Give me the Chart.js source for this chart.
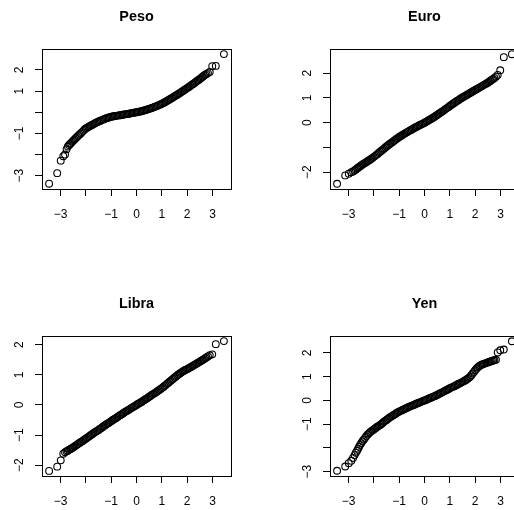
<!DOCTYPE html>
<html>
<head>
<meta charset="utf-8">
<script src="https://cdn.jsdelivr.net/npm/chart.js@4"></script>
<style>
  html, body { margin: 0; padding: 0; background: #fff; }
  #wrap { position: relative; width: 514px; height: 510px; overflow: hidden; background: #fff; }
  #wrap canvas { position: absolute; }
</style>
</head>
<body>
<div id="wrap">
  <canvas id="c0" width="288" height="288" style="left:0;top:0"></canvas>
  <canvas id="c1" width="288" height="288" style="left:288px;top:0"></canvas>
  <canvas id="c2" width="288" height="288" style="left:0;top:287px"></canvas>
  <canvas id="c3" width="288" height="288" style="left:288px;top:287px"></canvas>
</div>
<script>
// cuantiles teoricos (comunes a los cuatro paneles)
const teorico = [
  -3.45, -3.13, -2.99, -2.89, -2.82, -2.76, -2.71, -2.66, -2.62, -2.58, -2.54, -2.50,
  -2.45, -2.40, -2.35, -2.30, -2.25, -2.20, -2.15, -2.10, -2.05, -2.00,
  -1.95, -1.90, -1.85, -1.80, -1.75, -1.70, -1.65, -1.60, -1.55, -1.50,
  -1.45, -1.40, -1.35, -1.30, -1.25, -1.20, -1.15, -1.10, -1.05, -1.00,
  -0.95, -0.90, -0.85, -0.80, -0.75, -0.70, -0.65, -0.60, -0.55, -0.50,
  -0.45, -0.40, -0.35, -0.30, -0.25, -0.20, -0.15, -0.10, -0.05, 0.00,
  0.05, 0.10, 0.15, 0.20, 0.25, 0.30, 0.35, 0.40, 0.45, 0.50,
  0.55, 0.60, 0.65, 0.70, 0.75, 0.80, 0.85, 0.90, 0.95, 1.00,
  1.05, 1.10, 1.15, 1.20, 1.25, 1.30, 1.35, 1.40, 1.45, 1.50,
  1.55, 1.60, 1.65, 1.70, 1.75, 1.80, 1.85, 1.90, 1.95, 2.00,
  2.05, 2.10, 2.15, 2.20, 2.25, 2.30, 2.35, 2.40, 2.45,
  2.50, 2.54, 2.58, 2.62, 2.66, 2.71, 2.76, 2.82, 2.89, 2.99, 3.13, 3.45
];

// cuantiles muestrales
const peso = [
  -3.38, -2.88, -2.29, -2.08, -2.00, -1.75, -1.62, -1.55, -1.50, -1.45, -1.40, -1.35,
  -1.29, -1.23, -1.17, -1.11, -1.05, -1.00, -0.94, -0.88, -0.82, -0.77,
  -0.73, -0.70, -0.66, -0.63, -0.60, -0.56, -0.53, -0.50, -0.47, -0.44,
  -0.41, -0.39, -0.36, -0.34, -0.31, -0.29, -0.27, -0.25, -0.23, -0.21,
  -0.20, -0.19, -0.18, -0.17, -0.16, -0.15, -0.14, -0.13, -0.12, -0.11,
  -0.10, -0.09, -0.08, -0.07, -0.06, -0.04, -0.03, -0.02, -0.01, 0.00,
  0.01, 0.02, 0.04, 0.05, 0.07, 0.08, 0.10, 0.12, 0.14, 0.16,
  0.18, 0.20, 0.22, 0.25, 0.27, 0.29, 0.32, 0.35, 0.37, 0.40,
  0.43, 0.46, 0.50, 0.53, 0.57, 0.60, 0.64, 0.67, 0.71, 0.75,
  0.79, 0.82, 0.86, 0.90, 0.94, 0.98, 1.02, 1.06, 1.10, 1.14,
  1.18, 1.22, 1.27, 1.31, 1.35, 1.40, 1.44, 1.49, 1.53,
  1.57, 1.61, 1.65, 1.69, 1.73, 1.77, 1.81, 1.85, 1.90, 2.18, 2.19, 2.75
];

const euro = [
  -2.47, -2.13, -2.06, -2.00, -1.97, -1.93, -1.89, -1.85, -1.82, -1.79, -1.76, -1.73,
  -1.69, -1.66, -1.63, -1.60, -1.56, -1.53, -1.50, -1.46, -1.42, -1.38,
  -1.34, -1.30, -1.26, -1.21, -1.17, -1.13, -1.09, -1.05, -1.00, -0.96,
  -0.92, -0.88, -0.84, -0.81, -0.77, -0.73, -0.69, -0.65, -0.62, -0.58,
  -0.55, -0.52, -0.48, -0.45, -0.42, -0.39, -0.36, -0.33, -0.30, -0.27,
  -0.24, -0.21, -0.18, -0.16, -0.13, -0.10, -0.08, -0.05, -0.03, 0.00,
  0.03, 0.06, 0.09, 0.12, 0.15, 0.18, 0.21, 0.24, 0.28, 0.31,
  0.35, 0.38, 0.42, 0.45, 0.49, 0.53, 0.57, 0.60, 0.64, 0.68,
  0.72, 0.75, 0.79, 0.82, 0.86, 0.89, 0.92, 0.96, 0.99, 1.02,
  1.05, 1.08, 1.11, 1.14, 1.17, 1.20, 1.23, 1.26, 1.29, 1.32,
  1.35, 1.38, 1.41, 1.44, 1.47, 1.50, 1.53, 1.56, 1.59,
  1.62, 1.65, 1.68, 1.71, 1.74, 1.77, 1.81, 1.86, 1.93, 2.12, 2.65, 2.77
];

const libra = [
  -2.19, -2.05, -1.84, -1.62, -1.57, -1.54, -1.52, -1.49, -1.47, -1.45, -1.43, -1.41,
  -1.38, -1.35, -1.32, -1.29, -1.26, -1.23, -1.21, -1.18, -1.15, -1.12,
  -1.09, -1.06, -1.03, -1.00, -0.97, -0.94, -0.91, -0.88, -0.86, -0.83,
  -0.80, -0.77, -0.74, -0.71, -0.68, -0.65, -0.62, -0.60, -0.57, -0.54,
  -0.51, -0.48, -0.46, -0.43, -0.40, -0.37, -0.34, -0.32, -0.29, -0.26,
  -0.23, -0.21, -0.18, -0.16, -0.13, -0.10, -0.08, -0.05, -0.03, 0.00,
  0.03, 0.05, 0.08, 0.10, 0.13, 0.16, 0.19, 0.21, 0.24, 0.27,
  0.30, 0.33, 0.36, 0.38, 0.41, 0.44, 0.47, 0.50, 0.53, 0.56,
  0.59, 0.63, 0.66, 0.70, 0.73, 0.77, 0.80, 0.84, 0.87, 0.91,
  0.94, 0.98, 1.01, 1.04, 1.07, 1.10, 1.12, 1.15, 1.17, 1.19,
  1.21, 1.24, 1.26, 1.29, 1.31, 1.34, 1.36, 1.39, 1.41,
  1.44, 1.46, 1.48, 1.50, 1.52, 1.55, 1.58, 1.61, 1.65, 1.68, 2.02, 2.12
];

const yen = [
  -2.96, -2.78, -2.64, -2.54, -2.42, -2.30, -2.20, -2.12, -2.03, -1.95, -1.87, -1.80,
  -1.72, -1.65, -1.58, -1.51, -1.44, -1.39, -1.34, -1.30, -1.26, -1.22,
  -1.18, -1.14, -1.10, -1.07, -1.03, -0.99, -0.95, -0.90, -0.86, -0.82,
  -0.78, -0.74, -0.70, -0.67, -0.63, -0.60, -0.57, -0.53, -0.50, -0.47,
  -0.44, -0.42, -0.39, -0.37, -0.34, -0.32, -0.29, -0.27, -0.24, -0.22,
  -0.20, -0.18, -0.15, -0.13, -0.11, -0.09, -0.07, -0.04, -0.02, 0.00,
  0.02, 0.04, 0.07, 0.09, 0.11, 0.13, 0.16, 0.18, 0.21, 0.23,
  0.26, 0.29, 0.31, 0.34, 0.37, 0.40, 0.43, 0.45, 0.48, 0.51,
  0.54, 0.56, 0.59, 0.61, 0.64, 0.67, 0.70, 0.72, 0.75, 0.78,
  0.81, 0.84, 0.87, 0.91, 0.95, 1.00, 1.06, 1.13, 1.20, 1.27,
  1.33, 1.39, 1.44, 1.47, 1.50, 1.52, 1.54, 1.56, 1.58,
  1.60, 1.62, 1.63, 1.65, 1.66, 1.68, 1.69, 1.71, 2.02, 2.11, 2.14, 2.49
];

// marcas de los ejes
const xTicks = [-3, -2, -1, 0, 1, 2, 3];
const xLabels = [-3, -1, 0, 1, 2, 3];

const paneles = [
  { id: 'c0', titulo: 'Peso',  datos: peso,  ymin: -3.63, ymax: 2.99, yTicks: [-3, -2, -1, 0, 1, 2], yLabels: [-3, -1, 1, 2] },
  { id: 'c1', titulo: 'Euro',  datos: euro,  ymin: -2.68, ymax: 2.98, yTicks: [-2, -1, 0, 1, 2],     yLabels: [-2, 0, 1, 2] },
  { id: 'c2', titulo: 'Libra', datos: libra, ymin: -2.36, ymax: 2.29, yTicks: [-2, -1, 0, 1, 2],     yLabels: [-2, -1, 0, 1, 2] },
  { id: 'c3', titulo: 'Yen',   datos: yen,   ymin: -3.18, ymax: 2.71, yTicks: [-3, -2, -1, 0, 1, 2], yLabels: [-3, -1, 0, 1, 2] }
];

const FUENTE = "'Liberation Sans', Arial, Helvetica, sans-serif";
Chart.defaults.font.family = FUENTE;
Chart.defaults.color = '#000';

function etiqueta(v) {
  return v < 0 ? '\u2212' + Math.abs(v) : String(v);
}

// caja, titulo y etiquetas verticales del eje y (estilo R)
const marcoR = {
  id: 'marcoR',
  afterDraw(chart, args, opts) {
    const { ctx, chartArea } = chart;
    const l = Math.round(chartArea.left) + 0.5;
    const t = Math.round(chartArea.top) + 0.5;
    const r = Math.round(chartArea.right) + 0.5;
    const b = Math.round(chartArea.bottom) + 0.5;
    ctx.save();
    ctx.strokeStyle = '#000';
    ctx.lineWidth = 1;
    ctx.strokeRect(l, t, r - l, b - t);

    ctx.fillStyle = '#000';
    ctx.font = 'bold 14.4px ' + FUENTE;
    ctx.textAlign = 'center';
    ctx.textBaseline = 'middle';
    ctx.fillText(opts.titulo, (chartArea.left + chartArea.right) / 2, chartArea.top - 32);

    ctx.font = '12px ' + FUENTE;
    const ys = chart.scales.y;
    opts.yLabels.forEach(v => {
      ctx.save();
      ctx.translate(chartArea.left - 22, ys.getPixelForValue(v));
      ctx.rotate(-Math.PI / 2);
      ctx.fillText(etiqueta(v), 0, 0);
      ctx.restore();
    });
    ctx.restore();
  }
};

paneles.forEach(p => {
  const puntos = teorico.map((x, i) => ({ x: x, y: p.datos[i] }));
  new Chart(document.getElementById(p.id), {
    type: 'scatter',
    data: {
      datasets: [{
        data: puntos,
        pointRadius: 3.4,
        pointBorderWidth: 1.1,
        borderColor: '#000',
        backgroundColor: 'rgba(0,0,0,0)',
        pointHoverRadius: 3.4
      }]
    },
    options: {
      responsive: false,
      animation: false,
      devicePixelRatio: 1,
      layout: { padding: { left: 0, right: 57, top: 49, bottom: 59 } },
      plugins: {
        legend: { display: false },
        tooltip: { enabled: false },
        marcoR: { titulo: p.titulo, yLabels: p.yLabels }
      },
      scales: {
        x: {
          type: 'linear',
          min: -3.73,
          max: 3.73,
          afterBuildTicks: s => { s.ticks = xTicks.map(v => ({ value: v })); },
          afterFit: s => { s.height = 40; },
          border: { display: false },
          grid: { drawOnChartArea: false, drawTicks: true, tickLength: 7, color: '#000', lineWidth: 1 },
          ticks: {
            autoSkip: false,
            maxRotation: 0,
            padding: 11,
            font: { size: 12 },
            color: '#000',
            callback: v => xLabels.includes(v) ? etiqueta(v) : ''
          }
        },
        y: {
          type: 'linear',
          min: p.ymin,
          max: p.ymax,
          afterBuildTicks: s => { s.ticks = p.yTicks.map(v => ({ value: v })); },
          afterFit: s => { s.width = 42; },
          border: { display: false },
          grid: { drawOnChartArea: false, drawTicks: true, tickLength: 7, color: '#000', lineWidth: 1 },
          ticks: { display: false }
        }
      }
    },
    plugins: [marcoR]
  });
});
</script>
</body>
</html>
